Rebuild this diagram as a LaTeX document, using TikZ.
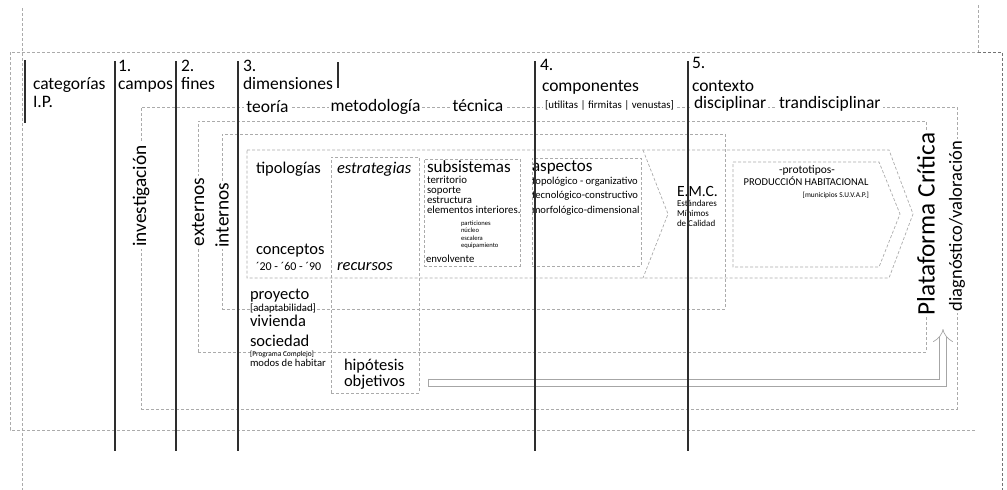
\documentclass[tikz,border=0pt]{standalone}
\usepackage{fontspec}
\setmainfont{Carlito}
\usepackage{tikz}
\usetikzlibrary{arrows.meta,calc,positioning}
\tikzset{
	ip diagram/.style={
		x=1pt, y=-1pt,
		every node/.style={inner sep=0pt, outer sep=0pt},
		txt/.style={anchor=base west},
		on frame/.style={fill=white, inner xsep=2pt, inner ysep=1.5pt}
	},
	fsize/.style={font=\fontsize{#1}{#1}\selectfont},
	dash frame/.style={draw=black!33, line width=.7pt, dash pattern=on 3pt off 2pt},
	dark frame/.style={dash frame, draw=black!55},
	ipframe/.style 2 args={dash frame, minimum width=#1, minimum height=#2},
	ip bar/.style={draw=black!82, line width=1.8pt},
	hollow arrow/.style={draw=black!35, line width=.7pt, double=white,
		double distance=6.5pt, -{Implies}}
}

\begin{document}
\begin{tikzpicture}[ip diagram]
	\useasboundingbox (0,0) rectangle (1007,490);
	% sheet
	\draw[dash frame] (22,8) -- (22,490);
	\draw[dash frame] (978,5) -- (978,52);
	\draw[dash frame] (975,430) -- (10,430) -- (10,52) -- (978,52);
	\draw[dark frame] (978,52) -- (1002,52) -- (1002,490);
	% nested fields
	\node[ipframe={816}{302}] (invest) at (549,258) {};
	\node[ipframe={728}{231}] (extern) at (562,236.5) {};
	\node[ipframe={503}{175}] (intern) at (473.5,221.5) {};
	\draw[dash frame] (247,150) -- (889,150) -- (913,214) -- (889,278) -- (247,278) -- cycle;
	\draw[dash frame] (643,150) -- (668,214) -- (643,278);
	\draw[dash frame] (733,162) -- (879,162) -- (900,214) -- (879,267) -- (733,267) -- cycle;
	\node[ipframe={88}{236}] (estr) at (375,275) {};
	\node[ipframe={96}{107}] (subs) at (472,212.5) {};
	\node[ipframe={109}{108}] (asp) at (586.5,212) {};

	% labels sitting on the frames
	\node[fsize=17.5, on frame, anchor=base] (teoria) at (267.5,112) {teoría};
	\node[fsize=17.5, on frame, anchor=base] (metod) at (375.5,111) {metodología};
	\node[fsize=17.5, on frame, anchor=base] (tecn) at (478,111) {técnica};
	\node[fsize=10.9, on frame, anchor=base west] (vitr) at (543,108) {[utilitas | firmitas | venustas]};
	\node[fsize=17.5, on frame, anchor=base west] (disc) at (692,108) {disciplinar};
	\node[fsize=17.5, on frame, anchor=base west] (trans) at (777,108) {trandisciplinar};
	\node[fsize=19.3, on frame, rotate=90] (invest lbl) at (invest.west |- 0,196) {investigación};
	\node[fsize=19.3, on frame, rotate=90] (extern lbl) at (extern.west |- 0,212) {externos};
	\node[fsize=19.3, on frame, rotate=90] (intern lbl) at (intern.west |- 0,215) {internos};
	\node[fsize=25.2, on frame, rotate=90] (plat) at (extern.east |- 0,224) {Plataforma Crítica};
	\node[fsize=18.5, on frame, rotate=90] (diag) at (invest.east |- 0,226) {diagnóstico/valoración};

	% headings
	\foreach \n/\x/\y in {1/118/71, 2/181/71, 3/243/71, 4/540/70, 5/692/68}
		\node[fsize=17.5, txt] (num\n) at (\x,\y) {\n.};
	\node[fsize=17.5, txt] (cat) at (33,89.5) {categorías};
	\node[fsize=17.5, txt] (ip) at (33,107) {I.P.};
	\node[fsize=17.5, txt] (campos) at (118,89.5) {campos};
	\node[fsize=17.5, txt] (fines) at (181,89.5) {fines};
	\node[fsize=17.5, txt] (dimen) at (243,89.5) {dimensiones};
	\node[fsize=17.5, txt] (compo) at (542,91) {componentes};
	\node[fsize=17.5, txt] (contex) at (692,91) {contexto};

	% inner contents
	\node[fsize=16.5, txt] (tipo) at (256,173.3) {tipologías};
	\node[fsize=16.5, txt] (estrat) at (337,173) {\itshape estrategias};
	\node[fsize=17, txt] (subs t) at (427,172.7) {subsistemas};
	\foreach \w [count=\i from 0] in {territorio,soporte,estructura,elementos interiores.}
		\node[fsize=10.8, txt] (subs\i) at (427,183.3+10*\i) {\w};
	\foreach \w [count=\i from 0] in {particiones,núcleo,escalera,equipamiento}
		\node[fsize=6.6, txt] (part\i) at (461,225+7.5*\i) {\w};
	\node[fsize=10.8, txt] (envol) at (426,262) {envolvente};
	\node[fsize=16.5, txt] (concep) at (256,254.3) {conceptos};
	\node[fsize=12, txt] (decades) at (256,270.7) {´20 - ´60 - ´90};
	\node[fsize=16.5, txt] (recur) at (337,270.7) {\itshape recursos};
	\node[fsize=17, txt] (asp t) at (532,171) {aspectos};
	\foreach \w [count=\i from 0] in {topológico - organizativo,tecnológico-constructivo,morfológico-dimensional}
		\node[fsize=10.6, txt] (asp\i) at (532,184.7+14.2*\i) {\w};
	\node[fsize=15.6, txt] (emc) at (677,196.7) {E.M.C.};
	\foreach \w [count=\i from 0] in {Estándares,Mínimos,de Calidad}
		\node[fsize=9, txt] (emc\i) at (677,206+10*\i) {\w};
	\node[fsize=11.5, anchor=base] (proto) at (807,173.3) {-prototipos-};
	\node[fsize=10.5, anchor=base] (prod) at (806,185.7) {PRODUCCIÓN HABITACIONAL};
	\node[fsize=7.4, anchor=base east] (munic) at (869,197) {[municipios S.U.V.A.P.]};
	\node[fsize=16.5, txt] (proy) at (250,299.3) {proyecto};
	\node[fsize=10.7, txt] (adapt) at (250,311.7) {[adaptabilidad]};
	\node[fsize=16.5, txt] (viv) at (250,326) {vivienda};
	\node[fsize=16.5, txt] (soc) at (250,346.8) {sociedad};
	\node[fsize=7.4, txt] (progr) at (250,356.2) {[Programa Complejo]};
	\node[fsize=10.6, txt] (modos) at (250,366) {modos de habitar};
	\node[fsize=16.5, txt] (hipo) at (344,370) {hipótesis};
	\node[fsize=16.5, txt] (objet) at (344,386.5) {objetivos};

	% feedback to the platform
	\coordinate (arrow tail) at ($(estr.east |- objet.base)+(9,-3.5)$);
	\coordinate (plat foot) at (943,329);
	\draw[hollow arrow] (arrow tail) -| (plat foot);
	\draw[draw=black!35, line width=.7pt] ($(arrow tail)+(0,-4.3)$) -- ($(arrow tail)+(0,4.3)$);

	% category bars
	\draw[ip bar] (25,60) -- (25,123);
	\foreach \x in {115,176,238,535,688}
		\draw[ip bar] (\x,61) -- (\x,451);
	\draw[ip bar] (338,62) -- (338,88);
\end{tikzpicture}
\end{document}
